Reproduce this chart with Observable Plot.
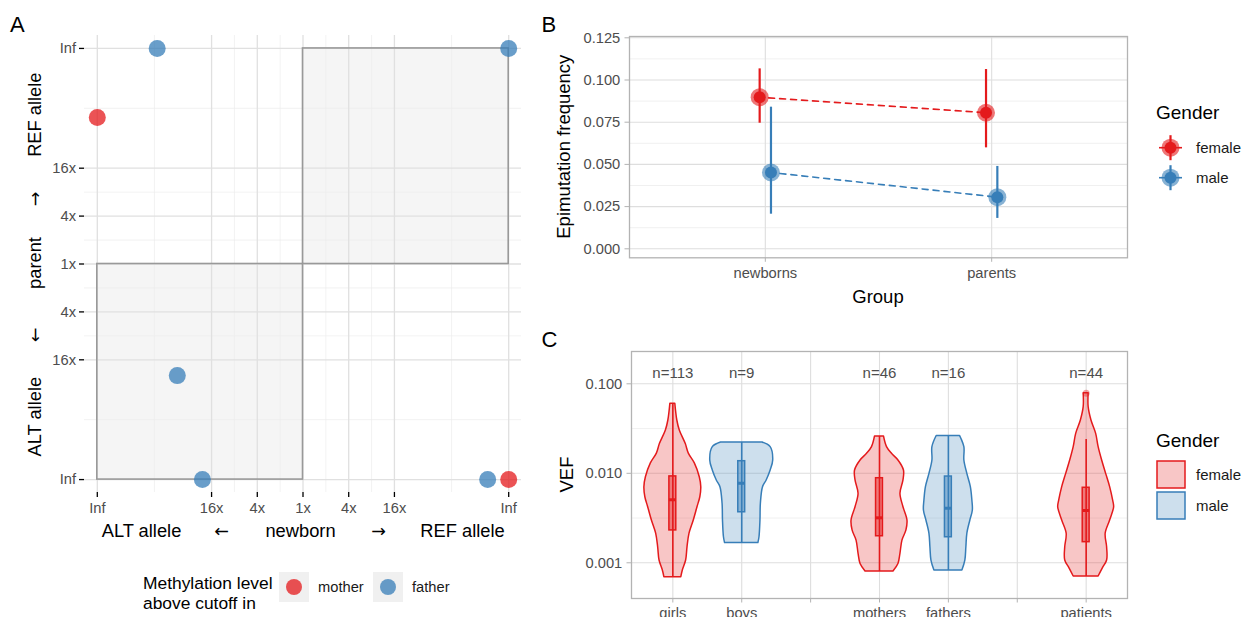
<!DOCTYPE html>
<html><head><meta charset="utf-8">
<script src="https://cdn.jsdelivr.net/npm/d3@7"></script>
<script src="https://cdn.jsdelivr.net/npm/@observablehq/plot@0.6"></script>
<style>
html,body{margin:0;padding:0;background:#fff;overflow:hidden}
#fig{position:relative;width:1242px;height:617px;overflow:hidden;background:#fff}
</style></head><body><div id="fig"></div>
<script>
const FONT = '"Liberation Sans", Arial, Helvetica, sans-serif';
const ARROW_FONT = '"DejaVu Sans", sans-serif';

// ---------------- Panel A data ----------------
const aTickVals = [-Infinity, -2, -1, 0, 1, 2, Infinity];
const aTickLabels = ["Inf", "16x", "4x", "1x", "4x", "16x", "Inf"];
const aNewborn = [-Infinity, -3.19, Infinity, -2.75, -2.2, 4.04, Infinity];
const aParent = [3.06, Infinity, Infinity, -2.33, -Infinity, -Infinity, -Infinity];
const aCutoffIn = ["mother", "father", "father", "father", "father", "father", "mother"];
const aLegendKeys = ["mother", "father"];
const aColors = ["#e41a1c", "#377eb8"];

// ---------------- Panel B data ----------------
const bGroups = ["newborns", "parents"];
const bGenders = ["female", "male"];
const bFemaleMean = [0.0898, 0.0806];
const bFemaleLow = [0.0744, 0.0598];
const bFemaleHigh = [0.1066, 0.1062];
const bMaleMean = [0.0452, 0.0306];
const bMaleLow = [0.0205, 0.0180];
const bMaleHigh = [0.0839, 0.0488];
const bYTicks = [0, 0.025, 0.05, 0.075, 0.1, 0.125];
const genderColors = ["#e41a1c", "#377eb8"];

// ---------------- Panel C data ----------------
const cSlots = ["girls", "boys", "", "mothers", "fathers", "", "patients"];
const cGroups = ["girls", "boys", "mothers", "fathers", "patients"];
const cGender = ["female", "male", "female", "male", "female"];
const cN = [113, 9, 46, 16, 44];
const cMin = [0.00069, 0.00166, 0.0008, 0.00082, 0.000703];
const cQ1 = [0.0023, 0.00367, 0.00198, 0.00193, 0.0017];
const cMedian = [0.00506, 0.00774, 0.00318, 0.00407, 0.00384];
const cQ3 = [0.00923, 0.01365, 0.00881, 0.0092, 0.00689];
const cMax = [0.0598, 0.0221, 0.0258, 0.0261, 0.0239];
const cOutlierGroup = ["patients"];
const cOutlierValue = [0.0785];
const cYTicks = [0.001, 0.01, 0.1];

const vGirlsVEF = [0.00069, 0.00082, 0.00106, 0.00149, 0.00212, 0.00297, 0.00418, 0.0054, 0.0070, 0.00903, 0.0129, 0.0166, 0.0212, 0.0301, 0.0389, 0.0598];
const vGirlsWidth = [0.123, 0.145, 0.193, 0.213, 0.242, 0.304, 0.358, 0.399, 0.413, 0.391, 0.319, 0.232, 0.188, 0.101, 0.065, 0.036];
const vBoysVEF = [0.00166, 0.00193, 0.00297, 0.00456, 0.0070, 0.00832, 0.01074, 0.0139, 0.0196, 0.0221];
const vBoysWidth = [0.242, 0.258, 0.272, 0.278, 0.309, 0.362, 0.42, 0.457, 0.42, 0.301];
const vMothersVEF = [0.0008, 0.00097, 0.00126, 0.00177, 0.0023, 0.00297, 0.00418, 0.0059, 0.00832, 0.01074, 0.0139, 0.0165, 0.0196, 0.0258];
const vMothersWidth = [0.203, 0.275, 0.304, 0.333, 0.391, 0.406, 0.348, 0.304, 0.348, 0.355, 0.275, 0.181, 0.109, 0.065];
const vFathersVEF = [0.00082, 0.00106, 0.00149, 0.00211, 0.00297, 0.00384, 0.00497, 0.0070, 0.00986, 0.0139, 0.0196, 0.0261];
const vFathersWidth = [0.203, 0.246, 0.261, 0.275, 0.319, 0.355, 0.348, 0.326, 0.275, 0.232, 0.232, 0.17];
const vPatientsVEF = [0.000703, 0.000867, 0.00106, 0.00149, 0.00211, 0.00297, 0.00418, 0.00497, 0.0070, 0.00986, 0.0139, 0.0196, 0.0276, 0.0389, 0.0548, 0.0785];
const vPatientsWidth = [0.181, 0.242, 0.304, 0.304, 0.283, 0.348, 0.406, 0.391, 0.348, 0.29, 0.232, 0.181, 0.145, 0.077, 0.036, 0.036];

// ================= helpers =================
const fig = document.getElementById("fig");
function place(el, left, top) {
  el.style.position = "absolute";
  el.style.left = left + "px";
  el.style.top = top + "px";
  el.style.maxWidth = "none";
  fig.appendChild(el);
}
const plotStyle = {fontFamily: FONT, fontSize: "14.7px", background: "transparent", overflow: "visible"};

// ================= Panel A =================
const INF_POS = 4.5;
const toPos = v => v === Infinity ? INF_POS : v === -Infinity ? -INF_POS : v;
const aMajor = aTickVals.map(toPos);
const aMinor = d3.pairs(aMajor).map(([a, b]) => (a + b) / 2);
const aPoints = aNewborn.map((x, i) => ({x: toPos(x), y: toPos(aParent[i]), who: aCutoffIn[i]}));
const aQuads = [
  {x1: toPos(0), x2: toPos(Infinity), y1: toPos(0), y2: toPos(Infinity)},
  {x1: toPos(-Infinity), x2: toPos(0), y1: toPos(-Infinity), y2: toPos(0)}
];
const aColorOf = w => aColors[aLegendKeys.indexOf(w)];
const aFmt = d => aTickLabels[aMajor.indexOf(d)];

const plotA = Plot.plot({
  width: 540, height: 545,
  marginLeft: 84, marginRight: 19, marginTop: 35, marginBottom: 53,
  x: {domain: [-4.78, 4.78], label: null},
  y: {domain: [-4.77, 4.77], label: null},
  style: plotStyle,
  marks: [
    Plot.rect(aQuads, {x1: "x1", x2: "x2", y1: "y1", y2: "y2", fill: "#f5f5f5"}),
    Plot.ruleX(aMinor, {stroke: "#ececec", strokeWidth: 0.7}),
    Plot.ruleY(aMinor, {stroke: "#ececec", strokeWidth: 0.7}),
    Plot.ruleX(aMajor, {stroke: "#e0e0e0", strokeWidth: 1.3}),
    Plot.ruleY(aMajor, {stroke: "#e0e0e0", strokeWidth: 1.3}),
    Plot.rect(aQuads, {x1: "x1", x2: "x2", y1: "y1", y2: "y2", fill: "none", stroke: "#999999", strokeWidth: 1.6}),
    Plot.dot(aPoints, {x: "x", y: "y", r: 8.5, fill: d => aColorOf(d.who), fillOpacity: 0.75, stroke: "none"}),
    Plot.axisX(aMajor, {tickFormat: aFmt, tickSize: 5, tickPadding: 5, stroke: "#000", strokeWidth: 1.3, color: "#4d4d4d", label: null}),
    Plot.axisY(aMajor, {tickFormat: aFmt, tickSize: 5, tickPadding: 3.5, stroke: "#000", strokeWidth: 1.3, color: "#4d4d4d", label: null})
  ],
  color: {type: "identity"}
});
place(plotA, 0, 0);

// ================= Panel B =================
const bRows = [];
bGenders.forEach((g, gi) => {
  const mean = gi === 0 ? bFemaleMean : bMaleMean;
  const lo = gi === 0 ? bFemaleLow : bMaleLow;
  const hi = gi === 0 ? bFemaleHigh : bMaleHigh;
  bGroups.forEach((grp, k) => {
    bRows.push({gender: g, x: k + 1 + (gi === 0 ? -0.025 : 0.025), mean: mean[k], lo: lo[k], hi: hi[k], color: genderColors[gi]});
  });
});
const bMinor = d3.pairs(bYTicks).map(([a, b]) => (a + b) / 2);
const bXPos = bGroups.map((d, i) => i + 1);

const plotB = Plot.plot({
  width: 600, height: 310,
  marginLeft: 89, marginRight: 13, marginTop: 36, marginBottom: 52.7,
  x: {domain: [0.4, 2.6], label: null},
  y: {domain: [-0.00533, 0.12577], label: null},
  color: {type: "identity"},
  style: plotStyle,
  marks: [
    Plot.ruleY(bMinor, {stroke: "#e6e6e6", strokeWidth: 0.6}),
    Plot.ruleY(bYTicks, {stroke: "#dedede", strokeWidth: 1.1}),
    Plot.ruleX(bXPos, {stroke: "#dedede", strokeWidth: 1.1}),
    Plot.line(bRows, {x: "x", y: "mean", z: "gender", stroke: "color", strokeWidth: 1.6, strokeDasharray: "6,5", strokeDashoffset: -9}),
    Plot.ruleX(bRows, {x: "x", y1: "lo", y2: "hi", stroke: "color", strokeWidth: 2.2}),
    Plot.dot(bRows, {x: "x", y: "mean", r: 9, fill: "color", fillOpacity: 0.6, stroke: "none"}),
    Plot.dot(bRows, {x: "x", y: "mean", r: 6, fill: "color", stroke: "none"}),
    Plot.frame({stroke: "#b3b3b3", strokeWidth: 1.3}),
    Plot.axisY(bYTicks, {tickFormat: d3.format(".3f"), tickSize: 4.5, tickPadding: 4.7, stroke: "#b3b3b3", color: "#4d4d4d", label: null}),
    Plot.axisX(bXPos, {tickFormat: d => bGroups[d - 1], tickSize: 4.5, tickPadding: 5, stroke: "#b3b3b3", color: "#4d4d4d", label: null})
  ]
});
place(plotB, 540, 0);

// ================= Panel C =================
const vVEF = [vGirlsVEF, vBoysVEF, vMothersVEF, vFathersVEF, vPatientsVEF];
const vWidth = [vGirlsWidth, vBoysWidth, vMothersWidth, vFathersWidth, vPatientsWidth];
const posOf = g => cSlots.indexOf(g) + 1;
const colOf = g => genderColors[bGenders.indexOf(g)];
const cBoxes = cGroups.map((g, i) => ({
  group: g, pos: posOf(g), color: colOf(cGender[i]),
  min: cMin[i], q1: cQ1[i], med: cMedian[i], q3: cQ3[i], max: cMax[i], n: "n=" + cN[i]
}));
const cOut = cOutlierGroup.map((g, i) => ({pos: posOf(g), v: cOutlierValue[i], color: colOf(cGender[cGroups.indexOf(g)])}));
const cMinor = d3.pairs(cYTicks).map(([a, b]) => Math.sqrt(a * b));
const cXPos = cSlots.map((d, i) => i + 1);
const BOXW = 0.05;

const violinMarks = cGroups.map((g, i) => {
  const p = posOf(g), col = colOf(cGender[i]);
  const rows = vVEF[i].map((v, j) => ({v, w: vWidth[i][j]}));
  return Plot.areaX(rows, {y: "v", x1: d => p - d.w, x2: d => p + d.w, fill: col, fillOpacity: 0.25, stroke: col, strokeWidth: 1.5, curve: "catmull-rom"});
});

const plotC = Plot.plot({
  width: 600, height: 330,
  marginLeft: 91, marginRight: 13, marginTop: 41, marginBottom: 42,
  x: {domain: [0.4, 7.6], label: null},
  y: {type: "log", domain: [0.000399, 0.2296], label: null},
  color: {type: "identity"},
  style: plotStyle,
  marks: [
    Plot.ruleY(cMinor, {stroke: "#e6e6e6", strokeWidth: 0.6}),
    Plot.ruleY(cYTicks, {stroke: "#dedede", strokeWidth: 1.1}),
    Plot.ruleX(cXPos, {stroke: "#dedede", strokeWidth: 1.1}),
    ...violinMarks,
    Plot.ruleX(cBoxes, {x: "pos", y1: "min", y2: "max", stroke: "color", strokeWidth: 1.6}),
    Plot.rect(cBoxes, {x1: d => d.pos - BOXW, x2: d => d.pos + BOXW, y1: "q1", y2: "q3", fill: "color", fillOpacity: 0.45, stroke: "color", strokeWidth: 1.5}),
    Plot.ruleY(cBoxes, {y: "med", x1: d => d.pos - BOXW, x2: d => d.pos + BOXW, stroke: "color", strokeWidth: 3}),
    Plot.dot(cOut, {x: "pos", y: "v", r: 3.5, fill: "color", fillOpacity: 0.4, stroke: "none"}),
    Plot.text(cBoxes, {x: "pos", text: "n", frameAnchor: "top", lineAnchor: "middle", dy: 22, fill: "#4d4d4d", fontSize: 15}),
    Plot.frame({stroke: "#b3b3b3", strokeWidth: 1.3}),
    Plot.axisY(cYTicks, {tickFormat: d3.format(".3f"), tickSize: 4.5, tickPadding: 4.7, stroke: "#b3b3b3", color: "#4d4d4d", label: null}),
    Plot.axisX(cXPos, {tickFormat: d => cSlots[d - 1], tickSize: 4.5, tickPadding: 5, stroke: "#b3b3b3", color: "#4d4d4d", label: null})
  ]
});
place(plotC, 540, 310);

// ================= Overlay: titles, legends =================
const ov = d3.create("svg").attr("width", 1242).attr("height", 617)
  .attr("font-family", FONT)
  .style("position", "absolute").style("left", "0px").style("top", "0px").style("pointer-events", "none");

function text(x, y, s, size, anchor = "start", fill = "#000", rotate = false, dy = null) {
  const t = ov.append("text").attr("font-size", size).attr("fill", fill).attr("text-anchor", anchor).text(s);
  if (rotate) t.attr("transform", `translate(${x},${y}) rotate(-90)`);
  else t.attr("x", x).attr("y", y);
  if (dy) t.attr("dy", dy);
  return t;
}

// panel tags
text(10, 31.7, "A", 22);
text(541.5, 31.7, "B", 22);
text(541.5, 346.7, "C", 22);

// Panel A axis titles
const isArrow = s => s === "←" || s === "→";
const axTitleX = [["ALT allele", 141.5], ["←", 221.5], ["newborn", 300.5], ["→", 378.5], ["REF allele", 462.5]];
axTitleX.forEach(([s, x]) => {
  const t = text(x, 536.5, s, 18.3, "middle");
  if (isArrow(s)) t.attr("font-family", ARROW_FONT).attr("font-size", 17.5);
});
const axTitleY = [["ALT allele", 416.7], ["←", 335], ["parent", 263], ["→", 199], ["REF allele", 114.7]];
axTitleY.forEach(([s, y]) => {
  const t = text(40.5, y, s, 18.3, "middle", "#000", true);
  if (isArrow(s)) t.attr("font-family", ARROW_FONT).attr("font-size", 17.5);
});

// Panel A legend
text(143, 589, "Methylation level", 17.4);
text(143, 609, "above cutoff in", 17.4);
const aKeyX = [279, 373];
aLegendKeys.forEach((k, i) => {
  ov.append("rect").attr("x", aKeyX[i]).attr("y", 572).attr("width", 30).attr("height", 30).attr("fill", "#f0f0f0");
  ov.append("circle").attr("cx", aKeyX[i] + 15).attr("cy", 587).attr("r", 8).attr("fill", aColors[i]).attr("fill-opacity", 0.75);
  text(aKeyX[i] + 39, 587, k, 14.7, "start", "#1a1a1a", false, "0.35em");
});

// Panel B titles
text(569.5, 146.7, "Epimutation frequency", 18.5, "middle", "#000", true);
text(878, 302.5, "Group", 18.5, "middle");

// Panel B legend
text(1156, 119.3, "Gender", 19);
const bKeyY = [147.7, 177.7];
bGenders.forEach((g, i) => {
  const cx = 1170.5, cy = bKeyY[i], col = genderColors[i];
  ov.append("line").attr("x1", cx - 11.5).attr("x2", cx + 11.5).attr("y1", cy).attr("y2", cy).attr("stroke", col).attr("stroke-width", 1.6);
  ov.append("line").attr("x1", cx).attr("x2", cx).attr("y1", cy - 12.5).attr("y2", cy + 12.5).attr("stroke", col).attr("stroke-width", 2.2);
  ov.append("circle").attr("cx", cx).attr("cy", cy).attr("r", 9).attr("fill", col).attr("fill-opacity", 0.6);
  ov.append("circle").attr("cx", cx).attr("cy", cy).attr("r", 6).attr("fill", col);
  text(1196, cy, g, 15, "start", "#1a1a1a", false, "0.35em");
});

// Panel C titles
text(573, 474.5, "VEF", 18.5, "middle", "#000", true);

// Panel C legend
text(1156, 446.5, "Gender", 19);
const cKeyY = [461, 492];
bGenders.forEach((g, i) => {
  const col = genderColors[i];
  ov.append("rect").attr("x", 1157).attr("y", cKeyY[i]).attr("width", 28).attr("height", 27)
    .attr("fill", col).attr("fill-opacity", 0.25).attr("stroke", col).attr("stroke-width", 1.5);
  text(1196, cKeyY[i] + 13.5, g, 15, "start", "#1a1a1a", false, "0.35em");
});

fig.appendChild(ov.node());
</script>
</body></html>
